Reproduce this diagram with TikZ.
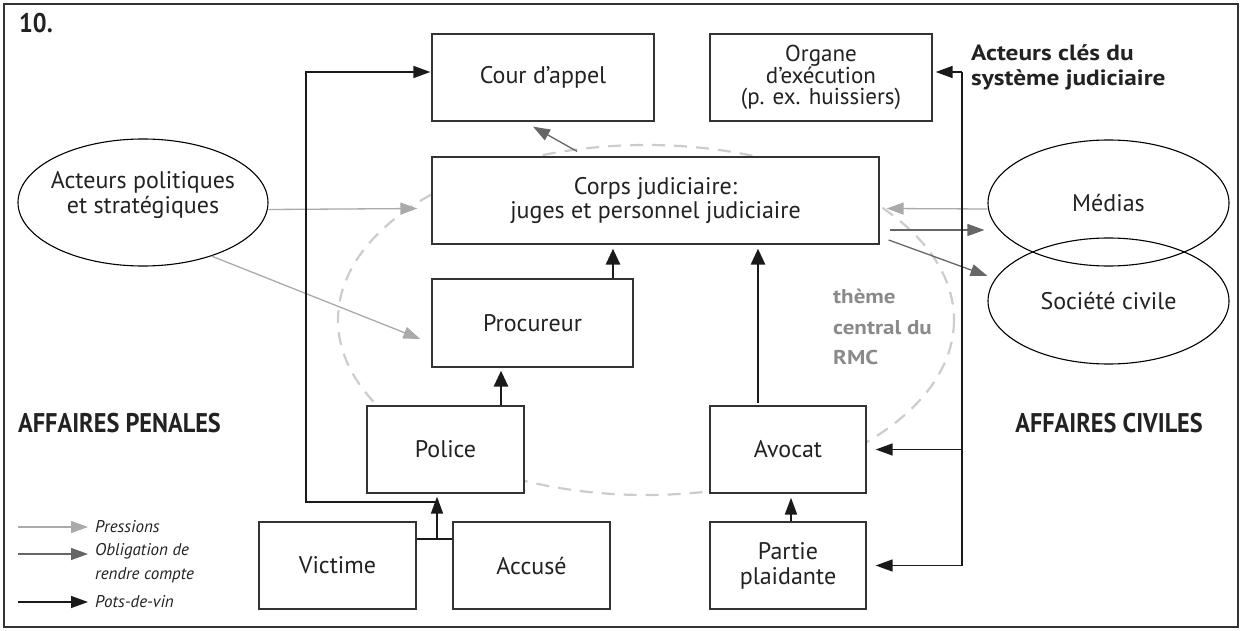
\documentclass[tikz,border=0pt]{standalone}
\usepackage{fontspec}
\setmainfont{PT Sans}
\newfontfamily\headfont{PT Sans}[FakeStretch=0.9]
\newfontfamily\keyfont{PT Sans}[FakeStretch=1.15]
\usetikzlibrary{arrows.meta,shapes.geometric}
\definecolor{boxc}{HTML}{333333}
\definecolor{pressc}{HTML}{AAAAAA}
\definecolor{oblc}{HTML}{666666}
\definecolor{bribec}{HTML}{1A1A1A}
\definecolor{dashc}{HTML}{CCCCCC}
\definecolor{themec}{HTML}{8A8A8A}
\definecolor{txtc}{HTML}{222222}
\newcommand\myfs[2]{\fontsize{#1}{#2}\selectfont}
\begin{document}
\begin{tikzpicture}[x=1pt,y=-1pt,
  box/.style={draw=boxc, fill=white, line width=1.3pt, inner sep=2pt, align=center,
    text=txtc, font=\myfs{24}{24}},
  oval/.style={ellipse, draw=black, line width=1.1pt, inner sep=0pt, align=center,
    text=txtc, font=\myfs{24}{25}, minimum width=241pt, minimum height=126pt},
  ovaltext/.style={inner sep=0pt, align=center, text=txtc, font=\myfs{24}{25}},
  tip/.style={-{Triangle[length=17pt,width=12pt]}},
  press/.style={tip, draw=pressc, fill=pressc, line width=1.3pt},
  oblig/.style={tip, draw=oblc, fill=oblc, line width=1.3pt},
  bribe/.style={draw=bribec, line width=1.6pt},
  bribearrow/.style={bribe, tip},
  thick bribe/.style={draw=bribec, line width=2.8pt, -{Triangle[length=16pt,width=14pt]}},
  legtext/.style={font=\myfs{17}{24}\itshape, text=txtc, align=left, inner sep=0pt},
  head/.style={font=\myfs{27}{30}\headfont\bfseries, text=txtc, inner sep=0pt}
]
\useasboundingbox (0,0) rectangle (1242,631);
\draw[line width=1.4pt, draw=boxc] (4,4) rectangle (1238,627);

% central theme dashed ellipse
\draw[dashc, line width=2.2pt, dash pattern=on 13pt off 9pt] (646,320) ellipse [x radius=308, y radius=175];

% boxes
\node[box, minimum width=222pt, minimum height=87pt] (cour) at (543,77.5) {Cour d’appel};
\node[box, minimum width=222pt, minimum height=87pt, font=\myfs{23}{21.5}] (org) at (821,77.5) {Organe\\d’exécution\\(p. ex. huissiers)};
\node[box, minimum width=447pt, minimum height=87pt] (corps) at (655.5,200.5) {Corps judiciaire:\\juges et personnel judiciaire};
\node[box, minimum width=201pt, minimum height=88pt] (proc) at (532.5,323) {Procureur};
\node[box, minimum width=157pt, minimum height=87pt] (pol) at (445.5,449.5) {Police};
\node[box, minimum width=156pt, minimum height=87pt] (avo) at (788,449.5) {Avocat};
\node[box, minimum width=157pt, minimum height=87pt] (vic) at (337.5,565.5) {Victime};
\node[box, minimum width=157pt, minimum height=87pt] (acc) at (531.5,565.5) {Accusé};
\node[box, minimum width=156pt, minimum height=87pt, font=\myfs{24}{25}] (par) at (788,565.5) {Partie\\plaidante};

% ellipses
\node[oval, minimum width=250pt, minimum height=127pt] (polit) at (143,202.5) {};
\node[ovaltext] (polittxt) at (143,195) {Acteurs politiques\\et stratégiques};
\node[oval] (med) at (1108.5,203) {Médias};
\node[oval] (soc) at (1108.5,301) {Société civile};

% texts
\node[anchor=north west, inner sep=0pt, font=\myfs{27}{28}\headfont\bfseries, text=txtc] (num) at (19,13) {10.};
\node[anchor=north west, inner sep=0pt, align=left, font=\myfs{22}{25}\keyfont\bfseries, text=txtc] (key) at (971,44) {Acteurs clés du\\système judiciaire};
\node[anchor=north west, inner sep=0pt, align=left, font=\myfs{20}{30.5}\keyfont\bfseries, text=themec] (theme) at (833,289) {thème\\central du\\RMC};
\node[head, anchor=west] (pen) at (18,423) {AFFAIRES PENALES};
\node[head, anchor=east] (civ) at (1203,423) {AFFAIRES CIVILES};

% pressures
\draw[press] ([yshift=-7pt]polit.east) -- ([xshift=-14pt,yshift=-8pt]corps.west);
\draw[press] (polit.-38) -- ([xshift=-11pt,yshift=-16pt]proc.west);
\draw[press] ([yshift=-6pt]med.west) -- ([xshift=7pt,yshift=-8pt]corps.east);
% accountability
\draw[oblig] ([xshift=10pt,yshift=-29.5pt]corps.east) -- ([xshift=-3pt,yshift=-27pt]med.west);
\draw[oblig] ([xshift=9pt,yshift=-39.5pt]corps.east) -- ([xshift=-121pt,yshift=25pt]soc.center);
\draw[oblig] ([xshift=-78.5pt,yshift=5pt]corps.north) -- ([xshift=-10pt,yshift=-5pt]cour.south);

% bribes
\draw[thick bribe] ([xshift=55.5pt]pol.north) -- ([xshift=-31.5pt,yshift=-3pt]proc.south);
\draw[thick bribe] ([xshift=80.5pt]proc.north) -- ([xshift=-42.5pt,yshift=-4pt]corps.south);
\draw[thick bribe] ([xshift=-30pt,yshift=2pt]avo.north) -- ([xshift=102.5pt,yshift=-4pt]corps.south);
\draw[bribearrow, line width=2pt] ([xshift=3pt]par.north) -- ([xshift=3pt,yshift=-4pt]avo.south);

\coordinate (vaj) at (437,539);
\coordinate (pl) at (306,502);
\draw[bribe] (vic.east |- vaj) -- (acc.west |- vaj);
\draw[bribearrow] (vaj) -- ([yshift=-3pt]vaj |- pol.south);
\draw[bribearrow] (vaj |- pl) -- (pl) |- ([xshift=-1pt,yshift=5.5pt]cour.west);

\coordinate (cl) at (962,72);
\draw[bribearrow] (cl) -- ([xshift=3pt,yshift=5.5pt]org.east);
\draw[bribe] (cl) -- (cl |- par.east);
\draw[bribearrow] (cl |- avo.east) -- ([xshift=9pt]avo.east);
\draw[bribearrow] (cl |- par.east) -- ([xshift=9pt]par.east);

% legend
\coordinate (l1a) at (18,527); \coordinate (l1b) at (88,527);
\coordinate (l2a) at (18,554); \coordinate (l2b) at (88,554);
\coordinate (l3a) at (18,602); \coordinate (l3b) at (88,602);
\draw[press] (l1a) -- (l1b);
\draw[oblig] (l2a) -- (l2b);
\draw[bribearrow, line width=1.4pt] (l3a) -- (l3b);
\node[legtext, anchor=west] (lt1) at (95,527) {Pressions};
\node[legtext, anchor=north west] (lt2) at (95,543) {Obligation de\\rendre compte};
\node[legtext, anchor=west] (lt3) at (95,602) {Pots-de-vin};
\end{tikzpicture}
\end{document}
